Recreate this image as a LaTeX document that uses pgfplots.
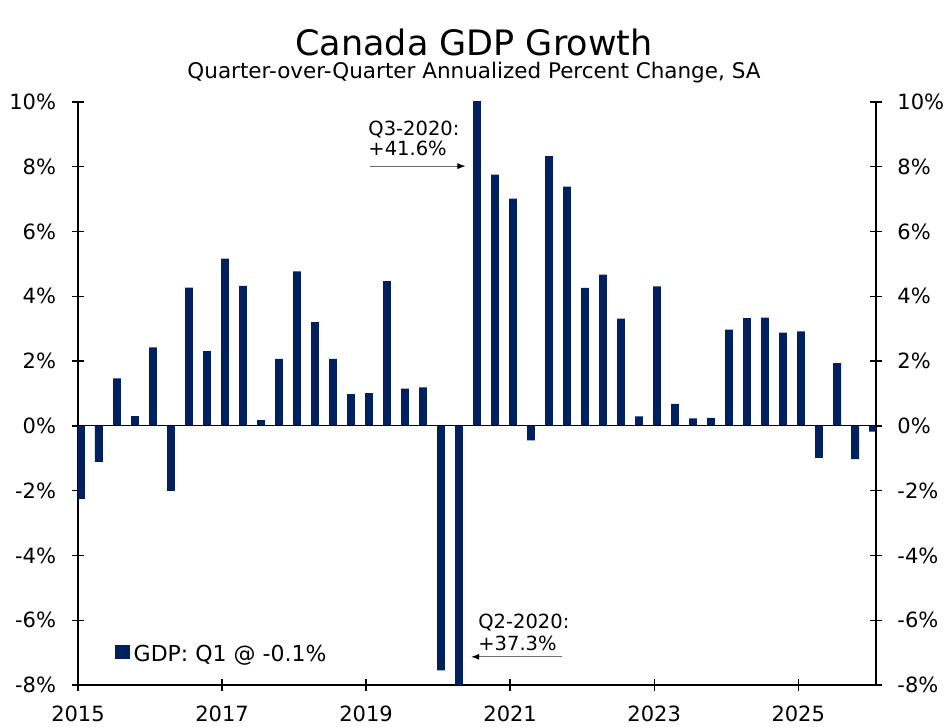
\documentclass[border=0pt]{standalone}
\usepackage{pgfplots}
\pgfplotsset{compat=1.18}
\usepackage{fontspec}
\setmainfont{DejaVu Sans}
\usetikzlibrary{arrows.meta}
\definecolor{navy}{HTML}{002060}
\definecolor{arrowgray}{HTML}{6E6E6E}
\pgfplotsset{
  gdpbase/.style={
    at={(0pt,0pt)}, anchor=south west,
    scale only axis, width=798pt, height=583pt,
    xmin=2015, xmax=2026.08, ymin=-8, ymax=10,
    axis line style={line width=1.1pt, -},
    xtick={2015,2017,2019,2021,2023,2025},
    ytick={-8,-6,-4,-2,0,2,4,6,8,10},
    major tick length=6.5pt,
    every tick/.style={black, line width=1.3pt},
    tick label style={font=\fontsize{21}{25}\selectfont, black},
  }
}
\begin{document}
\begin{tikzpicture}
\useasboundingbox (-78pt,-41pt) rectangle (870pt,685pt);
% inside half of the ticks (left and bottom)
\begin{axis}[gdpbase,
  axis x line*=bottom, axis y line*=left,
  tick align=inside, xticklabels={}, yticklabels={},
]
\addplot[draw=none, forget plot] coordinates {(2015,0)};
\end{axis}
% inside half of the ticks (right)
\begin{axis}[gdpbase,
  axis x line=none, axis y line*=right,
  tick align=inside, yticklabels={},
]
\addplot[draw=none, forget plot] coordinates {(2015,0)};
\end{axis}
% right axis with labels
\begin{axis}[gdpbase,
  axis x line=none, axis y line*=right,
  tick align=outside,
  yticklabels={-8\%,-6\%,-4\%,-2\%,0\%,2\%,4\%,6\%,8\%,10\%},
  yticklabel style={xshift=11.5pt},
]
\addplot[draw=none, forget plot] coordinates {(2015,0)};
\end{axis}
% main axis
\begin{axis}[gdpbase,
  axis x line*=bottom, axis y line*=left,
  tick align=outside,
  xticklabels={2015,2017,2019,2021,2023,2025},
  yticklabels={-8\%,-6\%,-4\%,-2\%,0\%,2\%,4\%,6\%,8\%,10\%},
  yticklabel style={xshift=-12pt},
  xticklabel style={yshift=-11pt},
  legend style={at={(axis description cs:0,0)}, anchor=south west, xshift=35pt, yshift=18pt,
    draw=none, fill=none, font=\fontsize{22}{25}\selectfont, inner sep=2pt},
  legend image code/.code={\path (0pt,0pt) -- (16.5pt,0pt); \fill[navy] (0pt,-5.5pt) rectangle (14.5pt,9pt);},
  legend cell align=left,
]
\addplot[ybar, bar width=0.108, fill=navy, draw=none] coordinates {
(2015.04,-2.25) (2015.29,-1.11) (2015.54,1.47) (2015.79,0.30)
(2016.04,2.42) (2016.29,-2.01) (2016.54,4.27) (2016.79,2.31)
(2017.04,5.16) (2017.29,4.32) (2017.54,0.18) (2017.79,2.07)
(2018.04,4.77) (2018.29,3.20) (2018.54,2.07) (2018.79,0.98)
(2019.04,1.01) (2019.29,4.47) (2019.54,1.15) (2019.79,1.19)
(2020.04,-7.55) (2020.29,-37.3) (2020.54,41.6) (2020.79,7.76)
(2021.04,7.02) (2021.29,-0.45) (2021.54,8.33) (2021.79,7.39)
(2022.04,4.26) (2022.29,4.67) (2022.54,3.31) (2022.79,0.29)
(2023.04,4.31) (2023.29,0.68) (2023.54,0.23) (2023.79,0.25)
(2024.04,2.97) (2024.29,3.33) (2024.54,3.34) (2024.79,2.88)
(2025.04,2.92) (2025.29,-0.99) (2025.54,1.94) (2025.79,-1.03)
(2026.04,-0.18)
};
\addlegendentry{GDP: Q1 @ -0.1\%}
\addplot[black, line width=1.1pt, forget plot] coordinates {(2015,0) (2026.08,0)};
\draw[arrowgray, line width=0.8pt, -{Latex[color=black, length=8pt, width=6pt]}]
  (axis cs:2019.06,8.02) -- (axis cs:2020.38,8.02);
\draw[arrowgray, line width=0.8pt, -{Latex[color=black, length=8pt, width=6pt]}]
  (axis cs:2021.72,-7.13) -- (axis cs:2020.46,-7.13);
\node[anchor=base west, inner sep=0pt, font=\fontsize{19.5}{21}\selectfont] at (axis cs:2019.03,8.975) {Q3-2020:};
\node[anchor=base west, inner sep=0pt, font=\fontsize{19.5}{21}\selectfont] at (axis cs:2019.03,8.36) {+41.6\%};
\node[anchor=base west, inner sep=0pt, font=\fontsize{19.5}{21}\selectfont] at (axis cs:2020.556,-6.27) {Q2-2020:};
\node[anchor=base west, inner sep=0pt, font=\fontsize{19.5}{21}\selectfont] at (axis cs:2020.556,-6.92) {+37.3\%};
\end{axis}
\node[anchor=base, font=\fontsize{35}{40}\selectfont] at (396pt,629pt) {Canada GDP Growth};
\node[anchor=base, font=\fontsize{21.5}{25}\selectfont] at (396pt,606.5pt) {Quarter-over-Quarter Annualized Percent Change, SA};
\end{tikzpicture}
\end{document}
